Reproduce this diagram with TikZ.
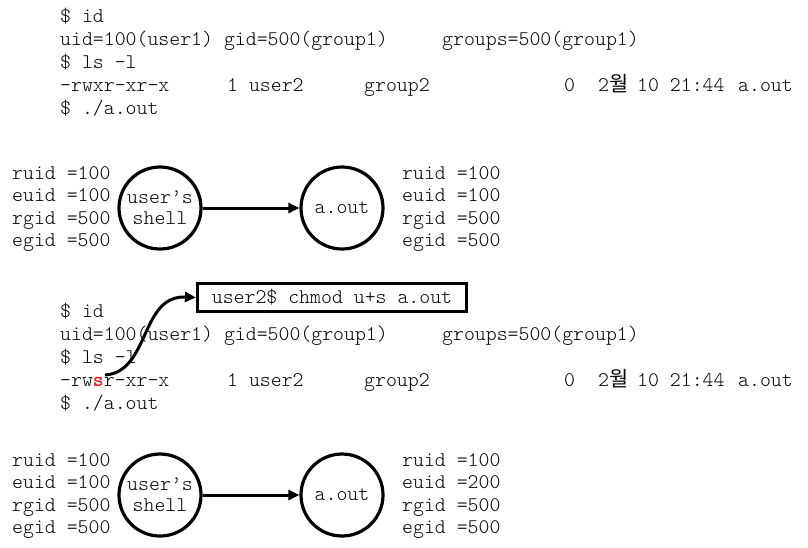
\documentclass[tikz,border=0pt]{standalone}
\usepackage{fontspec}
\setmainfont{Latin Modern Mono Light}
\setmonofont{Latin Modern Mono Light}
\newfontfamily\kr{Noto Sans CJK KR}
\usetikzlibrary{arrows.meta}
\definecolor{sred}{RGB}{225,25,30}
\begin{document}
\begin{tikzpicture}[x=1pt,y=-1pt,
  txt/.style={anchor=base west,inner sep=0pt,font=\fontsize{20.8}{22}\selectfont},
  proc/.style={circle,draw,line width=3.2pt,minimum size=82pt,inner sep=0pt,align=center,font=\fontsize{20.8}{21}\selectfont},
  cmdbox/.style={draw,line width=3.2pt,minimum width=269pt,minimum height=28pt,inner sep=0pt,font=\fontsize{20.8}{22}\selectfont},
  conn/.style={-{Triangle[length=11pt,width=10pt]},line width=3pt}]
\useasboundingbox (0,0) rectangle (808,547);

% ---- block 1
\node[txt] (a1) at (60,22) {\$ id};
\node[txt] (a2) at (60,45) {uid=100(user1) gid=500(group1)};
\node[txt] (a2b) at (442,45) {groups=500(group1)};
\node[txt] (a3) at (60,68) {\$ ls -l};
\node[txt] (a4) at (60,91) {-rwxr-xr-x};
\node[txt] (a4b) at (227,91) {1 user2};
\node[txt] (a4c) at (364,91) {group2};
\node[txt] (a4d) at (564,91) {0};
\node[txt] (a4e) at (598,91) {2{\kr 월}};
\node[txt] (a4f) at (637,91) {10 21:44};
\node[txt] (a4g) at (738,91) {a.out};
\node[txt] (a5) at (60,114) {\$ ./a.out};

% ---- block 2
\node[txt] (b1) at (12,179) {ruid =100};
\node[txt] (b2) at (12,201) {euid =100};
\node[txt] (b3) at (12,224) {rgid =500};
\node[txt] (b4) at (12,246) {egid =500};
\node[proc] (sh1) at (160,208) {user’s\\shell};
\node[proc] (ao1) at (342,208) {a.out};
\draw[conn] (sh1) -- (ao1);
\node[txt] (c1) at (402,179) {ruid =100};
\node[txt] (c2) at (402,201) {euid =100};
\node[txt] (c3) at (402,224) {rgid =500};
\node[txt] (c4) at (402,246) {egid =500};

% ---- block 3
\node[cmdbox] (cmd) at (332,297.5) {user2\$ chmod u+s a.out};
\node[txt] (d1) at (60,317) {\$ id};
\node[txt] (d2) at (60,340) {uid=100(user1) gid=500(group1)};
\node[txt] (d2b) at (442,340) {groups=500(group1)};
\node[txt] (d3) at (60,363) {\$ ls -l};
\node[txt] (d4) at (60,386) {-rw{\bfseries\color{sred}s}r-xr-x};
\node[txt] (d4b) at (227,386) {1 user2};
\node[txt] (d4c) at (364,386) {group2};
\node[txt] (d4d) at (564,386) {0};
\node[txt] (d4e) at (598,386) {2{\kr 월}};
\node[txt] (d4f) at (637,386) {10 21:44};
\node[txt] (d4g) at (738,386) {a.out};
\node[txt] (d5) at (60,409) {\$ ./a.out};
\coordinate (src) at (105,375);
\draw[conn] (src) .. controls (150,372) and (140,295) .. (cmd.west);

% ---- block 4
\node[txt] (e1) at (12,466) {ruid =100};
\node[txt] (e2) at (12,488) {euid =100};
\node[txt] (e3) at (12,511) {rgid =500};
\node[txt] (e4) at (12,533) {egid =500};
\node[proc] (sh2) at (160,495) {user’s\\shell};
\node[proc] (ao2) at (342,495) {a.out};
\draw[conn] (sh2) -- (ao2);
\node[txt] (f1) at (402,466) {ruid =100};
\node[txt] (f2) at (402,488) {euid =200};
\node[txt] (f3) at (402,511) {rgid =500};
\node[txt] (f4) at (402,533) {egid =500};
\end{tikzpicture}
\end{document}
